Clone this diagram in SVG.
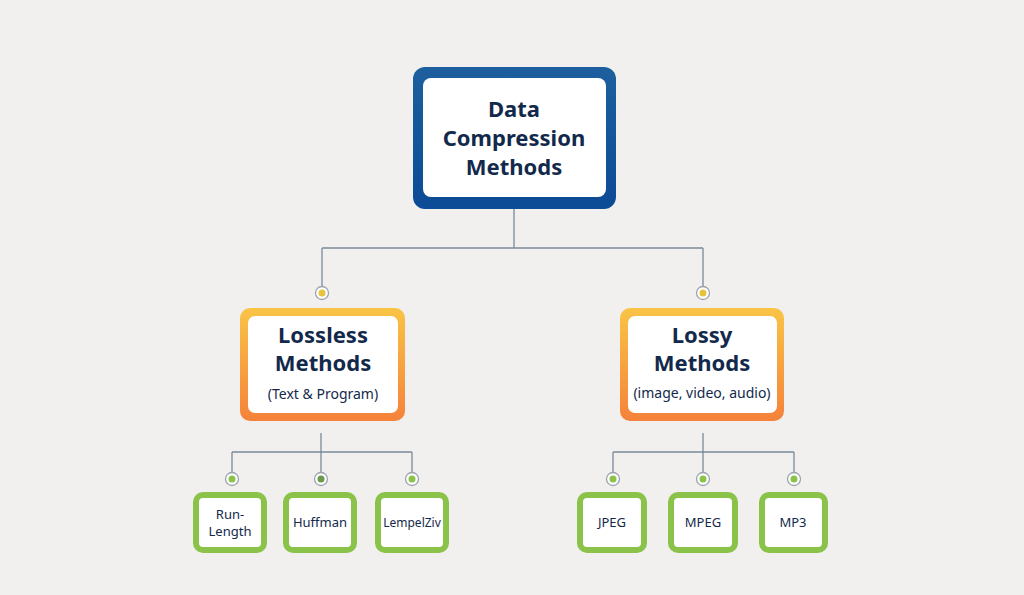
<svg xmlns="http://www.w3.org/2000/svg" width="1024" height="595" viewBox="0 0 1024 595">
<defs>
<linearGradient id="og" x1="0" y1="0" x2="0" y2="1"><stop offset="0" stop-color="#f9c446"/><stop offset="1" stop-color="#f5823a"/></linearGradient>
<linearGradient id="bg" x1="0" y1="0" x2="0" y2="1"><stop offset="0" stop-color="#1d5f9e"/><stop offset="1" stop-color="#0c4b95"/></linearGradient>
</defs>
<style>
.t{font-family:"Noto Sans","Liberation Sans",sans-serif;fill:#13294b;text-anchor:middle}
.b{font-weight:bold}
.ln{stroke:#7a8a9a;stroke-width:1.3;fill:none}
.dot{fill:#fff;stroke:#9aa4ae;stroke-width:1.3}
.s{fill:#8bc34a}
</style>
<rect width="1024" height="595" fill="#f1f0ef"/>
<g id="connectors">
<path class="ln" d="M514 209V248M322 248H703M322 248V287M703 248V287"/>
<path class="ln" d="M321 433V452M232 452H412M232 452V473M321 452V473M412 452V473"/>
<path class="ln" d="M703 433V452M613 452H794M613 452V473M703 452V473M794 452V473"/>
<circle class="dot" cx="322" cy="293" r="6.5"/><circle cx="322" cy="293" r="3.5" fill="#e8c23c"/>
<circle class="dot" cx="703" cy="293" r="6.5"/><circle cx="703" cy="293" r="3.5" fill="#e8c23c"/>
<circle class="dot" cx="232" cy="479" r="6.5"/><circle class="s" cx="232" cy="479" r="3.5"/>
<circle class="dot" cx="321" cy="479" r="6.5"/><circle cx="321" cy="479" r="3.5" fill="#6b9a4a"/>
<circle class="dot" cx="412" cy="479" r="6.5"/><circle class="s" cx="412" cy="479" r="3.5"/>
<circle class="dot" cx="613" cy="479" r="6.5"/><circle class="s" cx="613" cy="479" r="3.5"/>
<circle class="dot" cx="703" cy="479" r="6.5"/><circle class="s" cx="703" cy="479" r="3.5"/>
<circle class="dot" cx="794" cy="479" r="6.5"/><circle class="s" cx="794" cy="479" r="3.5"/>
</g>
<g id="root">
<rect x="413" y="67" width="203" height="142" rx="12" fill="url(#bg)"/>
<rect x="423" y="78" width="183" height="119" rx="8" fill="#fff"/>
<text class="t b" font-size="22"><tspan x="514" y="117">Data</tspan><tspan x="514" y="146">Compression</tspan><tspan x="514" y="175">Methods</tspan></text>
</g>
<g id="lossless">
<rect x="240" y="308" width="165" height="113" rx="10" fill="url(#og)"/>
<rect x="248" y="316" width="150" height="97" rx="7" fill="#fff"/>
<text class="t b" font-size="22"><tspan x="323" y="343">Lossless</tspan><tspan x="323" y="371">Methods</tspan></text>
<text class="t" font-size="14" x="323" y="399">(Text &amp; Program)</text>
</g>
<g id="lossy">
<rect x="620" y="308" width="164" height="113" rx="10" fill="url(#og)"/>
<rect x="628" y="316" width="149" height="97" rx="7" fill="#fff"/>
<text class="t b" font-size="22"><tspan x="702" y="343">Lossy</tspan><tspan x="702" y="371">Methods</tspan></text>
<text class="t" font-size="14" x="702" y="398">(image, video, audio)</text>
</g>
<g id="runlength"><rect x="196" y="495" width="68" height="55" rx="7" fill="#fff" stroke="#8bc34a" stroke-width="6"/>
<text class="t" font-size="13"><tspan x="230" y="519">Run-</tspan><tspan x="230" y="536">Length</tspan></text></g>
<g id="huffman"><rect x="286" y="495" width="68" height="55" rx="7" fill="#fff" stroke="#8bc34a" stroke-width="6"/>
<text class="t" font-size="13" x="320" y="527">Huffman</text></g>
<g id="lempelziv"><rect x="378" y="495" width="68" height="55" rx="7" fill="#fff" stroke="#8bc34a" stroke-width="6"/>
<text class="t" font-size="12" x="412" y="527">LempelZiv</text></g>
<g id="jpeg"><rect x="580" y="495" width="64" height="55" rx="7" fill="#fff" stroke="#8bc34a" stroke-width="6"/>
<text class="t" font-size="13" x="612" y="527">JPEG</text></g>
<g id="mpeg"><rect x="671" y="495" width="64" height="55" rx="7" fill="#fff" stroke="#8bc34a" stroke-width="6"/>
<text class="t" font-size="13" x="703" y="527">MPEG</text></g>
<g id="mp3"><rect x="762" y="495" width="63" height="55" rx="7" fill="#fff" stroke="#8bc34a" stroke-width="6"/>
<text class="t" font-size="13" x="793" y="527">MP3</text></g>
</svg>
